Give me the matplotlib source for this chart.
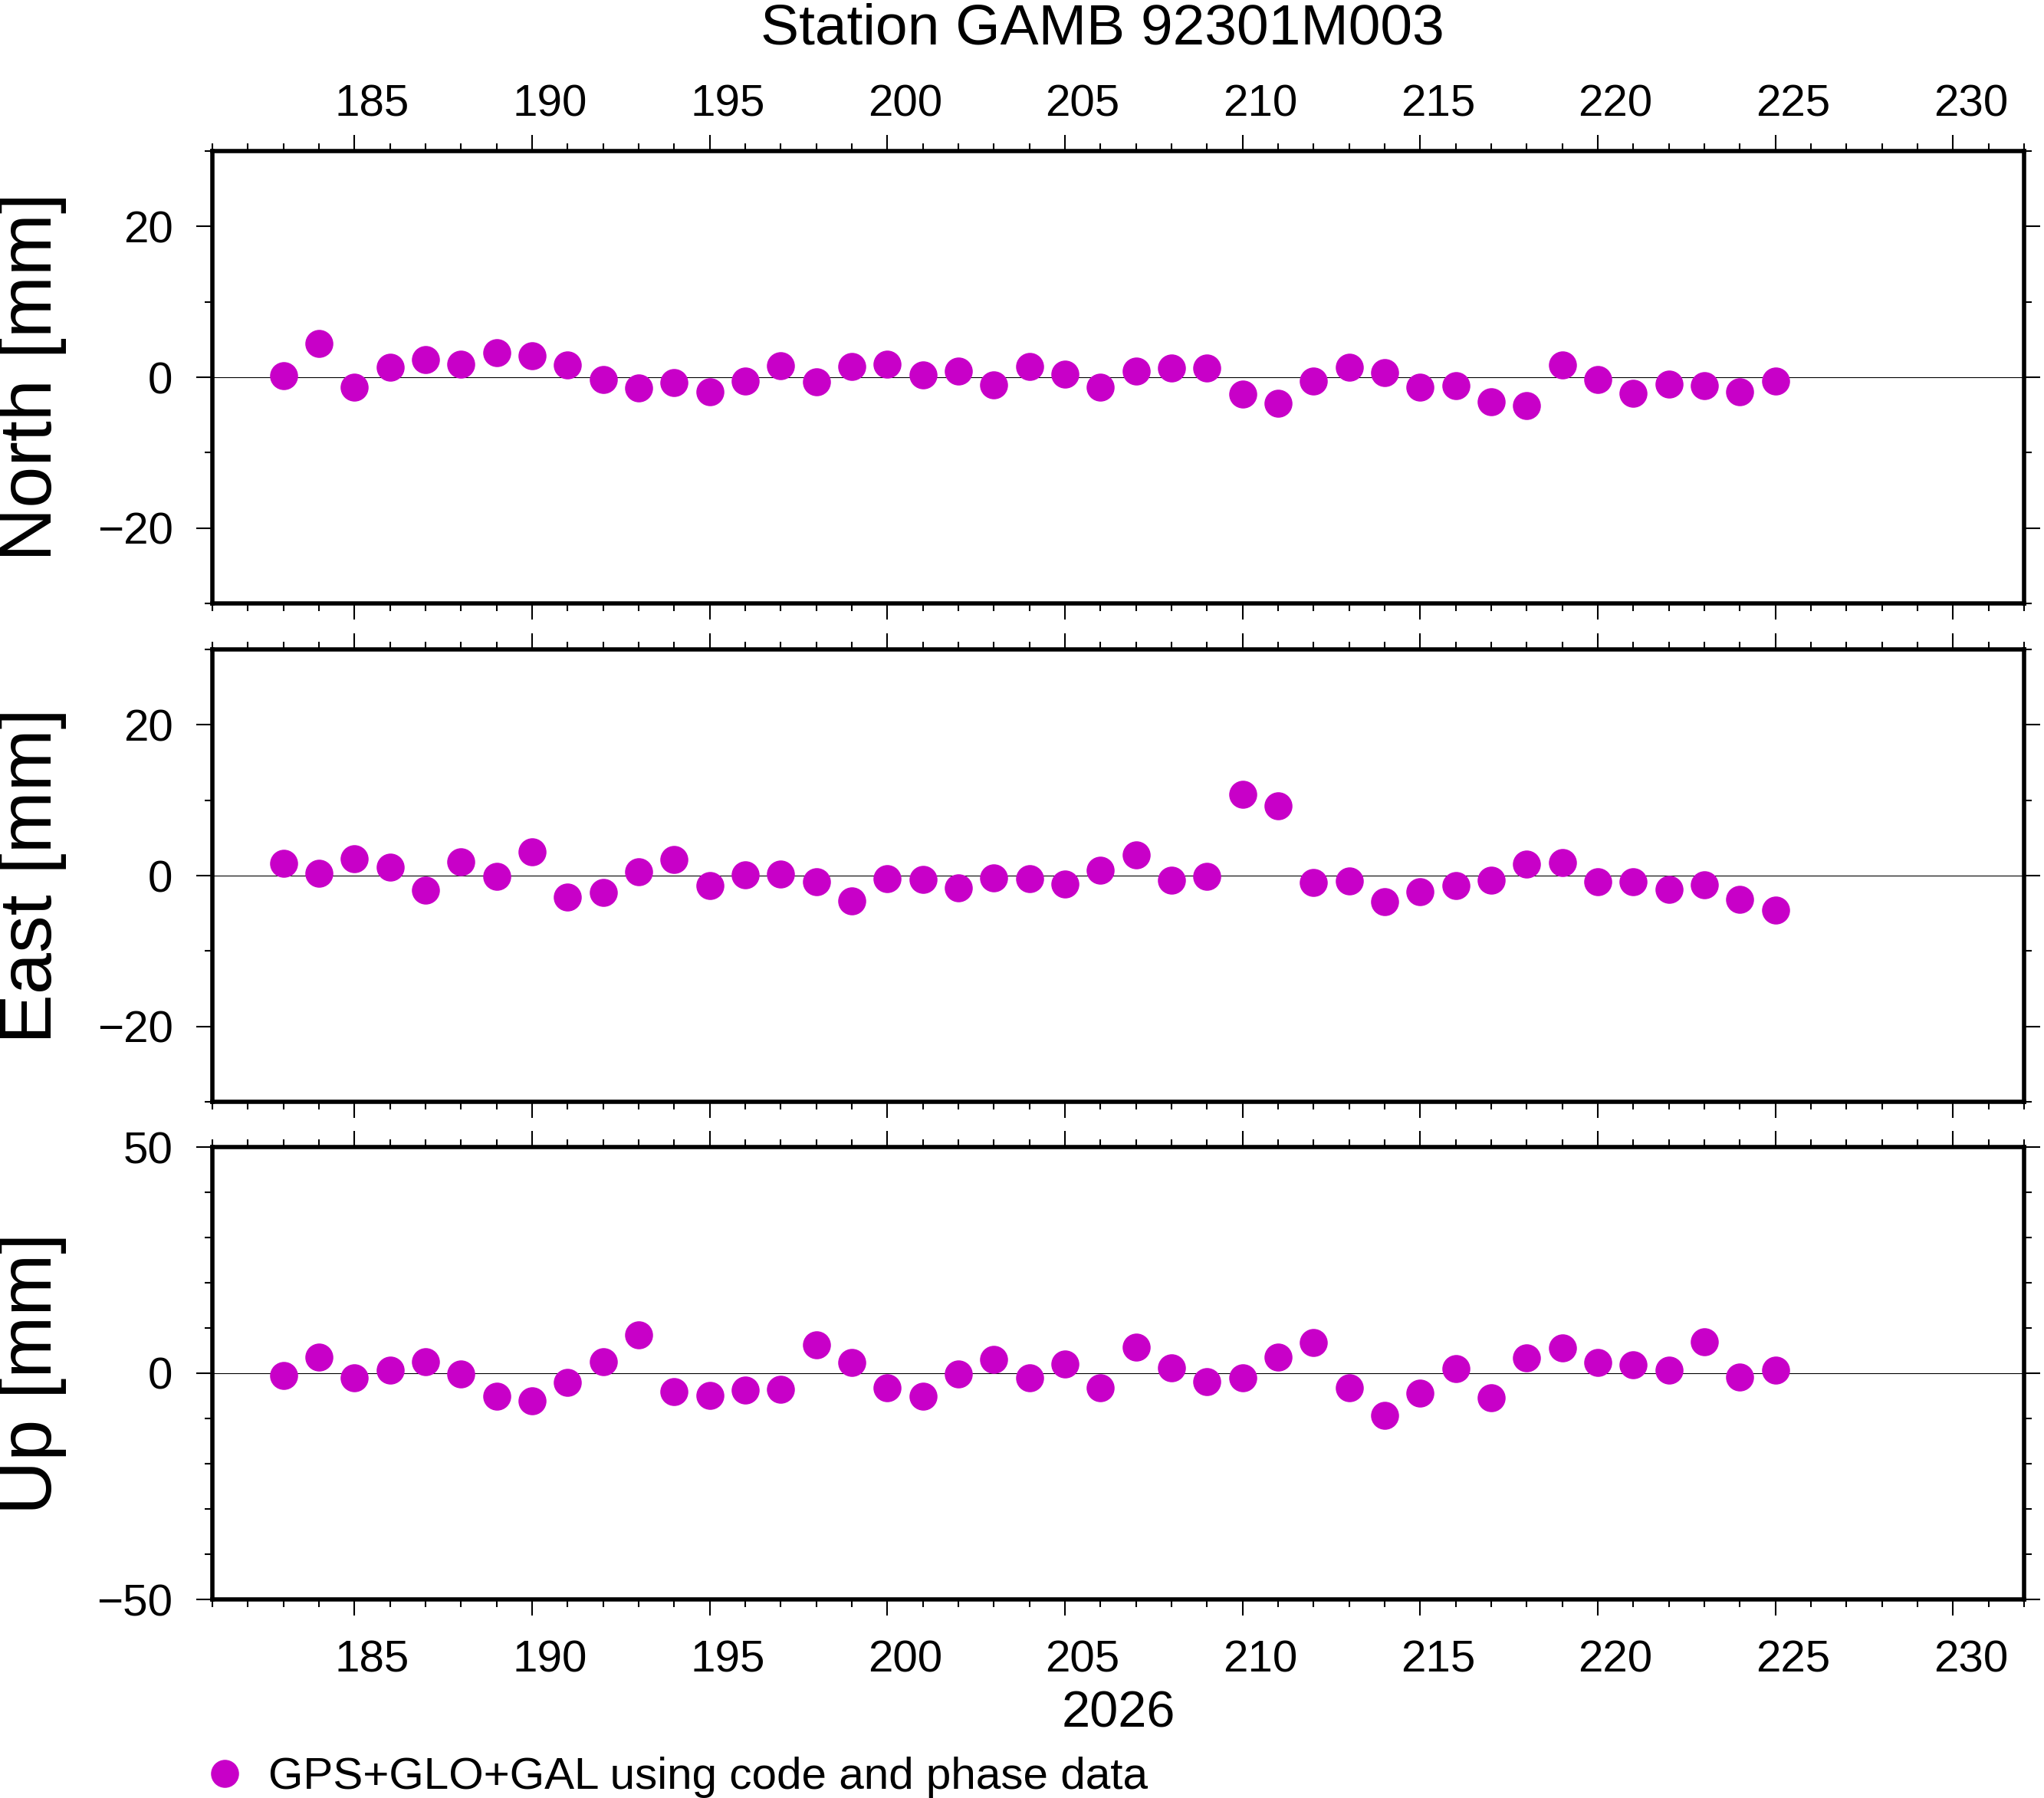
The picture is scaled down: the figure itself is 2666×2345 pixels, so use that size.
import matplotlib
matplotlib.use('Agg')
import matplotlib.pyplot as plt

plt.rcParams['font.family'] = ['Liberation Sans', 'DejaVu Sans']

# day of year 2026
days = list(range(183, 226))

north = [0.2, 4.5, -1.3, 1.3, 2.3, 1.7, 3.3, 2.8, 1.6, -0.3,
         -1.4, -0.7, -1.9, -0.5, 1.5, -0.6, 1.4, 1.7, 0.3, 0.8,
         -1.0, 1.4, 0.4, -1.3, 0.8, 1.2, 1.2, -2.2, -3.5, -0.5,
         1.3, 0.6, -1.3, -1.1, -3.3, -3.8, 1.6, -0.3, -2.1, -0.9,
         -1.1, -1.9, -0.5]
east = [1.6, 0.3, 2.2, 1.1, -1.9, 1.8, -0.1, 3.2, -2.8, -2.2,
        0.5, 2.1, -1.3, 0.1, 0.2, -0.8, -3.4, -0.4, -0.5, -1.6,
        -0.3, -0.4, -1.1, 0.7, 2.7, -0.6, -0.1, 10.8, 9.3, -0.9,
        -0.7, -3.5, -2.1, -1.3, -0.6, 1.5, 1.7, -0.8, -0.8, -1.8,
        -1.2, -3.2, -4.6]
up = [-0.5, 3.6, -1.1, 0.6, 2.6, -0.1, -5.1, -6.1, -2.0, 2.6,
      8.4, -4.1, -4.9, -3.7, -3.5, 6.3, 2.4, -3.2, -5.1, -0.1,
      3.1, -1.0, 2.1, -3.3, 5.8, 1.2, -1.8, -1.0, 3.6, 6.7,
      -3.2, -9.3, -4.4, 1.1, -5.5, 3.4, 5.6, 2.3, 1.9, 0.6,
      7.0, -0.8, 0.7]

panels = [('North [mm]', north, (-30, 30), [-20, 0, 20]),
          ('East [mm]', east, (-30, 30), [-20, 0, 20]),
          ('Up [mm]', up, (-50, 50), [-50, 0, 50])]

xmajor = list(range(185, 231, 5))
color = '#c800c8'
label = 'GPS+GLO+GAL using code and phase data'

W, H = 2666, 2345
fig = plt.figure(figsize=(W / 100, H / 100), dpi=100)

left = 277 / W
width = (2640 - 277) / W
tops = [197, 847, 1496]
ph = 590

axes = []
for i, (name, vals, ylim, yt) in enumerate(panels):
    y0 = 1 - (tops[i] + ph) / H
    ax = fig.add_axes([left, y0, width, ph / H])
    ax.axhline(0, color='black', lw=0.8, zorder=1)
    ln, = ax.plot(days, vals, 'o', ms=26.3, color=color, mec='none',
                  zorder=3, label=label)
    if i == 0:
        handle = ln
    ax.set_xlim(181, 232)
    ax.set_ylim(*ylim)
    ax.set_xticks(xmajor)
    ax.set_xticks(range(181, 233), minor=True)
    ax.set_yticks(yt)
    ax.set_yticks(range(ylim[0], ylim[1] + 1, 10), minor=True)
    ax.set_xticklabels([])
    ax.tick_params(axis='both', which='both', direction='out',
                   top=True, bottom=True, left=True, right=True,
                   labeltop=False, labelbottom=False, labelright=False)
    ax.tick_params(which='major', length=15, width=1.5, labelsize=42, pad=22)
    ax.tick_params(which='minor', length=7, width=1.5)
    for s in ax.spines.values():
        s.set_linewidth(4)
    fig.text(42 / W, 1 - (tops[i] + ph / 2) / H, name, rotation=90,
             ha='center', va='center', fontsize=70)
    axes.append(ax)

# day labels sit in the middle of each day interval
for d in xmajor:
    axes[0].annotate(str(d), xy=(d + 0.5, 1), xycoords=('data', 'axes fraction'),
                     xytext=(0, 32.5), textcoords='offset points',
                     ha='center', va='baseline', fontsize=42)
    axes[2].annotate(str(d), xy=(d + 0.5, 0), xycoords=('data', 'axes fraction'),
                     xytext=(0, -68), textcoords='offset points',
                     ha='center', va='baseline', fontsize=42)

axes[2].annotate('2026', xy=(0.5, 0), xycoords='axes fraction',
                 xytext=(0, -120), textcoords='offset points',
                 ha='center', va='baseline', fontsize=48)

fig.text(1438 / W, 1 - 57 / H, 'Station GAMB 92301M003',
         ha='center', va='baseline', fontsize=54)

fig.legend(handles=[handle], labels=[label], loc='center left',
           bbox_to_anchor=(264 / W, 1 - 2318 / H), frameon=False,
           fontsize=42, handlelength=1.0, handletextpad=0.47,
           borderpad=0, borderaxespad=0)

fig.savefig('out.png', dpi=100)
